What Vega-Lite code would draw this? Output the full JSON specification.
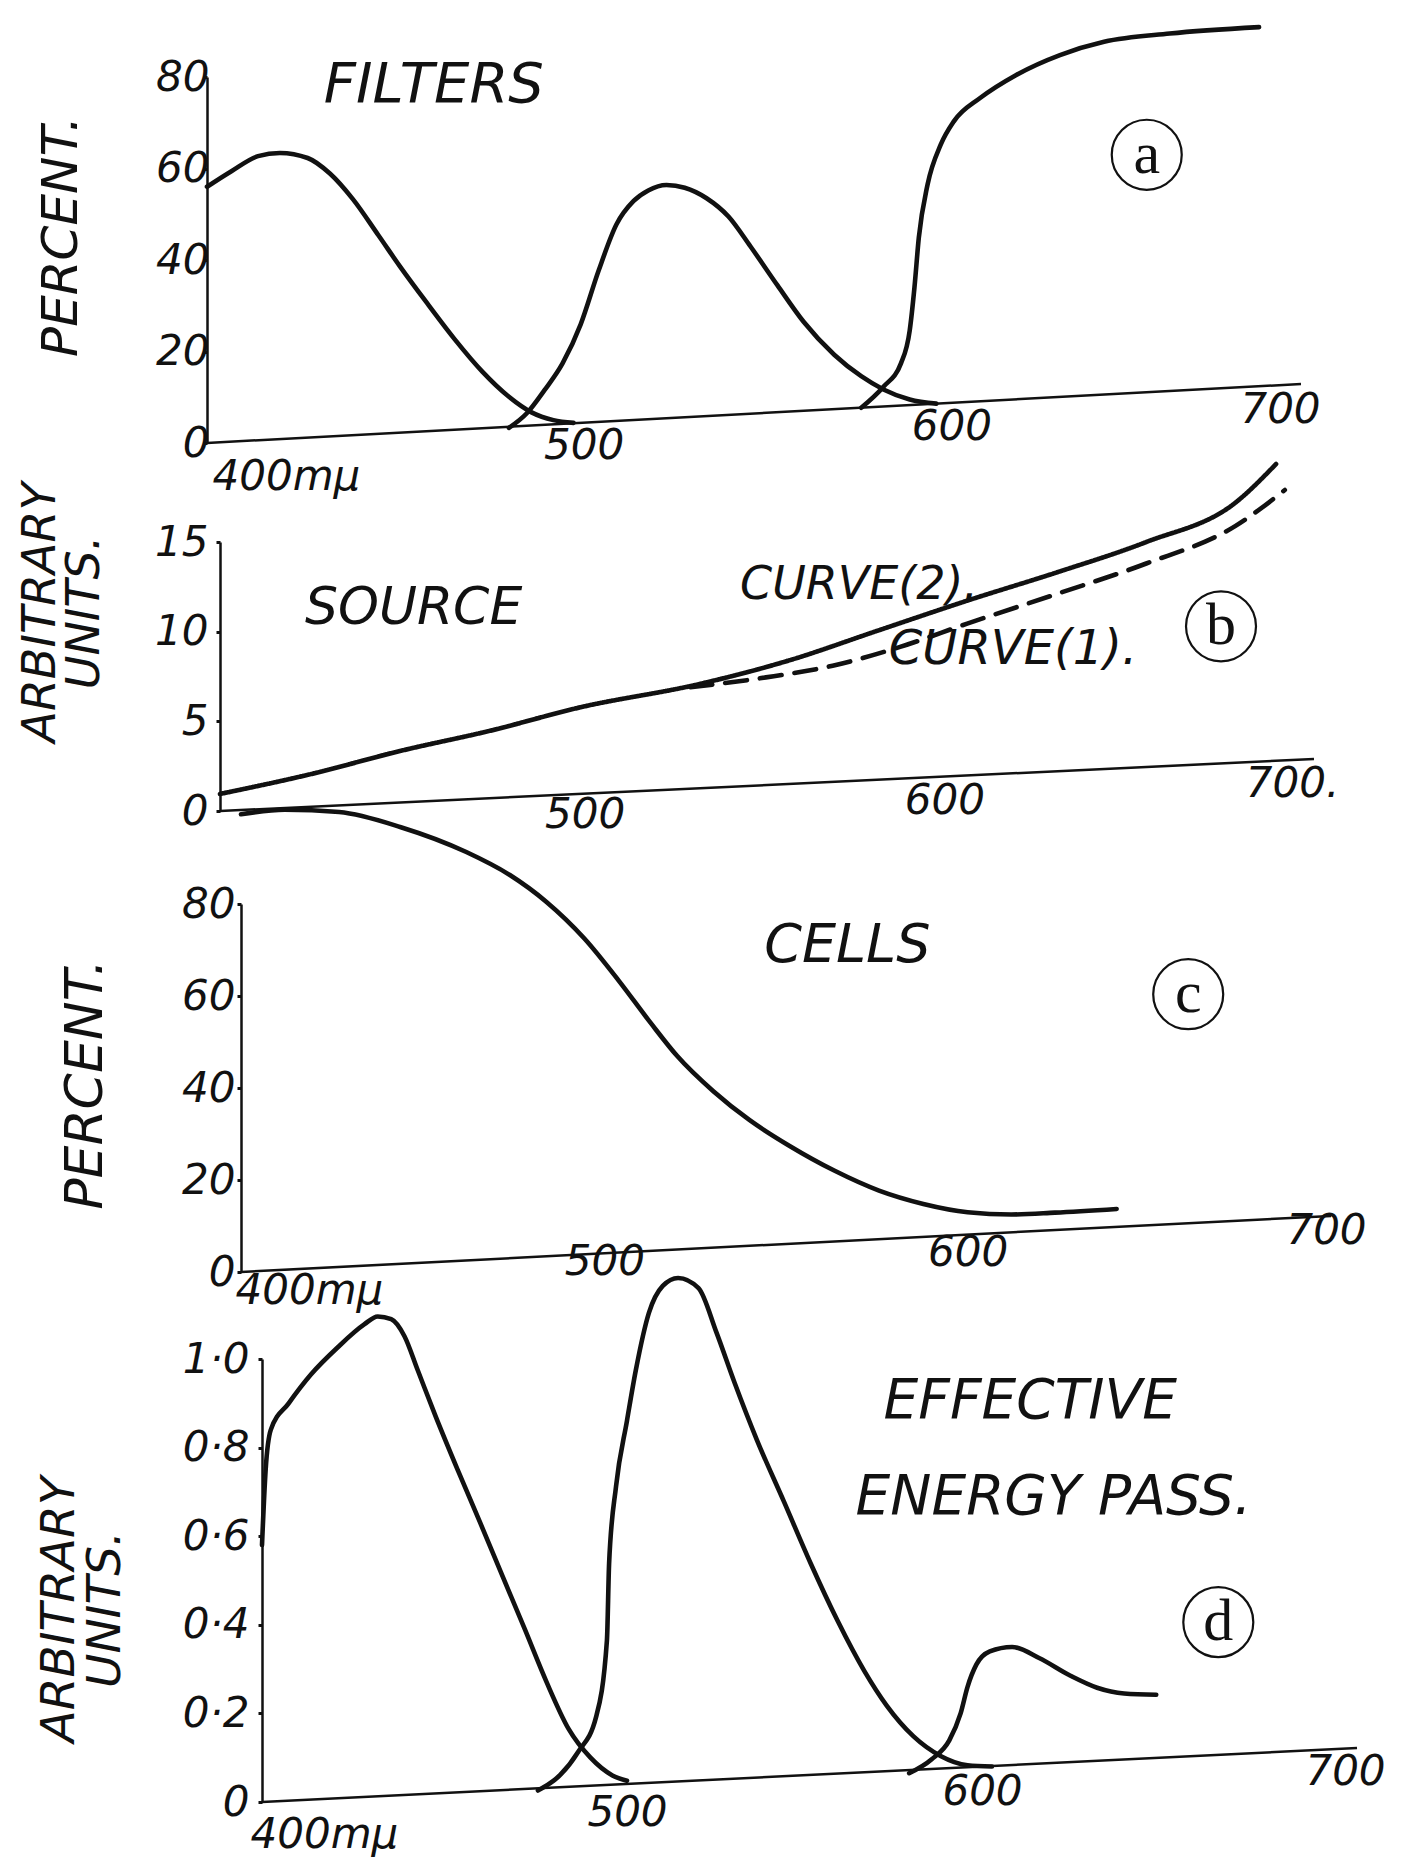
{
  "$schema": "https://vega.github.io/schema/vega-lite/v6.json",
  "background": "white",
  "padding": {"left": 16, "top": 17, "right": 0, "bottom": 8},
  "autosize": {"type": "pad"},
  "spacing": 93,
  "bounds": "flush",
  "config": {
    "view": {"stroke": null},
    "font": "DejaVu Sans",
    "axis": {
      "grid": false, "domainColor": "#111", "domainWidth": 2.5, "tickColor": "#111",
      "labelColor": "#111", "titleColor": "#111", "labelFont": "DejaVu Sans", "labelFontStyle": "italic",
      "labelFontSize": 42, "titleFont": "DejaVu Sans", "titleFontStyle": "italic", "titleFontWeight": "normal",
      "labelFlush": false, "labelOverlap": false, "labelBound": false
    },
    "line": {"color": "#111", "strokeWidth": 4.6, "interpolate": "monotone", "strokeCap": "round"},
    "text": {"font": "DejaVu Sans", "fontStyle": "italic", "color": "#111"}
  },
  "datasets": {
    "A": [
      {"s":"blue","nm":400,"v":56},{"s":"blue","nm":406.7,"v":59.4},{"s":"blue","nm":414,"v":62.7},{"s":"blue","nm":420,"v":63.4},{"s":"blue","nm":427.6,"v":62.3},{"s":"blue","nm":433.7,"v":58.9},{"s":"blue","nm":440,"v":53.3},{"s":"blue","nm":447,"v":45.4},{"s":"blue","nm":453,"v":38.5},{"s":"blue","nm":460.7,"v":30.2},{"s":"blue","nm":468,"v":22.6},{"s":"blue","nm":475.5,"v":15.6},{"s":"blue","nm":482.8,"v":10.1},{"s":"blue","nm":489,"v":6.7},{"s":"blue","nm":495,"v":5},{"s":"blue","nm":500.5,"v":4.4},
      {"s":"green","nm":482.8,"v":3.3},{"s":"green","nm":487.7,"v":6.5},{"s":"green","nm":492.6,"v":11.6},{"s":"green","nm":497.5,"v":17.4},{"s":"green","nm":502.5,"v":26},{"s":"green","nm":507.4,"v":37.7},{"s":"green","nm":512.3,"v":47.8},{"s":"green","nm":517,"v":52.9},{"s":"green","nm":521,"v":55.2},{"s":"green","nm":526,"v":56.4},{"s":"green","nm":531,"v":55.8},{"s":"green","nm":537,"v":53.5},{"s":"green","nm":543,"v":49.5},{"s":"green","nm":549,"v":43},{"s":"green","nm":556.4,"v":34.5},{"s":"green","nm":563.6,"v":26.5},{"s":"green","nm":572,"v":19.3},{"s":"green","nm":579.4,"v":14.6},{"s":"green","nm":585.5,"v":11.7},{"s":"green","nm":592.7,"v":9.5},{"s":"green","nm":600,"v":8.6},
      {"s":"red","nm":579.4,"v":7.7},{"s":"red","nm":585.5,"v":12.3},{"s":"red","nm":590.3,"v":17.4},{"s":"red","nm":592.7,"v":24.6},{"s":"red","nm":594,"v":34},{"s":"red","nm":595.2,"v":44.9},{"s":"red","nm":597.6,"v":56.5},{"s":"red","nm":601.2,"v":65.2},{"s":"red","nm":604.8,"v":70.3},{"s":"red","nm":612,"v":75.4},{"s":"red","nm":621.8,"v":80.4},{"s":"red","nm":633.9,"v":84.8},{"s":"red","nm":646,"v":87.7},{"s":"red","nm":664,"v":89.5},{"s":"red","nm":688.5,"v":90.9}
    ],
    "B": [
      {"s":"curve2","nm":400,"v":0.95},{"s":"curve2","nm":425,"v":2.06},{"s":"curve2","nm":449.7,"v":3.36},{"s":"curve2","nm":474.2,"v":4.48},{"s":"curve2","nm":498.8,"v":5.78},{"s":"curve2","nm":531.5,"v":7.08},{"s":"curve2","nm":555.8,"v":8.38},{"s":"curve2","nm":580.4,"v":10.06},{"s":"curve2","nm":604.9,"v":11.73},{"s":"curve2","nm":629.4,"v":13.3},{"s":"curve2","nm":654,"v":15},{"s":"curve2","nm":678.5,"v":17.2},{"s":"curve2","nm":689.6,"v":19.35},
      {"s":"curve1","nm":529,"v":6.9},{"s":"curve1","nm":549.7,"v":7.45},{"s":"curve1","nm":568,"v":8.1},{"s":"curve1","nm":586.5,"v":9.15},{"s":"curve1","nm":604.9,"v":10.45},{"s":"curve1","nm":629.4,"v":12.1},{"s":"curve1","nm":654,"v":13.8},{"s":"curve1","nm":678.5,"v":15.9},{"s":"curve1","nm":692,"v":17.9}
    ],
    "C": [
      {"s":"cells","nm":400,"v":99.5},{"s":"cells","nm":412,"v":100.5},{"s":"cells","nm":427,"v":100},{"s":"cells","nm":444,"v":96.7},{"s":"cells","nm":462,"v":91.3},{"s":"cells","nm":474,"v":86.3},{"s":"cells","nm":484,"v":80.5},{"s":"cells","nm":494.5,"v":72.5},{"s":"cells","nm":504,"v":63.3},{"s":"cells","nm":512.7,"v":54.2},{"s":"cells","nm":520,"v":47},{"s":"cells","nm":530,"v":39.3},{"s":"cells","nm":540,"v":33},{"s":"cells","nm":551,"v":27.4},{"s":"cells","nm":563.4,"v":22},{"s":"cells","nm":575.6,"v":17.7},{"s":"cells","nm":587.8,"v":14.8},{"s":"cells","nm":600,"v":13},{"s":"cells","nm":612,"v":12.5},{"s":"cells","nm":624,"v":12.9},{"s":"cells","nm":641,"v":13.7}
    ],
    "D": [
      {"s":"blue","nm":400,"v":0.58},{"s":"blue","nm":401,"v":0.75},{"s":"blue","nm":402.4,"v":0.84},{"s":"blue","nm":407.3,"v":0.9},{"s":"blue","nm":413.4,"v":0.965},{"s":"blue","nm":420.7,"v":1.026},{"s":"blue","nm":428,"v":1.078},{"s":"blue","nm":431.7,"v":1.096},{"s":"blue","nm":435.4,"v":1.09},{"s":"blue","nm":439,"v":1.052},{"s":"blue","nm":442.7,"v":0.974},{"s":"blue","nm":447.6,"v":0.87},{"s":"blue","nm":453.7,"v":0.748},{"s":"blue","nm":459.8,"v":0.63},{"s":"blue","nm":465.9,"v":0.51},{"s":"blue","nm":472,"v":0.39},{"s":"blue","nm":478,"v":0.27},{"s":"blue","nm":484,"v":0.165},{"s":"blue","nm":490,"v":0.1},{"s":"blue","nm":496,"v":0.06},{"s":"blue","nm":500,"v":0.048},
      {"s":"green","nm":475.6,"v":0.026},{"s":"green","nm":481.7,"v":0.061},{"s":"green","nm":486.6,"v":0.113},{"s":"green","nm":491.5,"v":0.191},{"s":"green","nm":494.5,"v":0.365},{"s":"green","nm":495.1,"v":0.539},{"s":"green","nm":497,"v":0.713},{"s":"green","nm":500,"v":0.861},{"s":"green","nm":502.4,"v":0.974},{"s":"green","nm":506,"v":1.104},{"s":"green","nm":509.8,"v":1.165},{"s":"green","nm":514,"v":1.183},{"s":"green","nm":519.6,"v":1.16},{"s":"green","nm":524.5,"v":1.06},{"s":"green","nm":529.4,"v":0.948},{"s":"green","nm":535.6,"v":0.817},{"s":"green","nm":543,"v":0.678},{"s":"green","nm":550.3,"v":0.539},{"s":"green","nm":557.7,"v":0.409},{"s":"green","nm":565,"v":0.296},{"s":"green","nm":571.2,"v":0.217},{"s":"green","nm":578.5,"v":0.148},{"s":"green","nm":585.9,"v":0.104},{"s":"green","nm":593.3,"v":0.083},{"s":"green","nm":600,"v":0.08},
      {"s":"red","nm":577.3,"v":0.065},{"s":"red","nm":583.4,"v":0.096},{"s":"red","nm":588.3,"v":0.139},{"s":"red","nm":591.4,"v":0.2},{"s":"red","nm":593.3,"v":0.26},{"s":"red","nm":595.7,"v":0.31},{"s":"red","nm":599.4,"v":0.34},{"s":"red","nm":605.5,"v":0.35},{"s":"red","nm":612.9,"v":0.325},{"s":"red","nm":621.5,"v":0.285},{"s":"red","nm":628.8,"v":0.258},{"s":"red","nm":636.2,"v":0.245},{"s":"red","nm":645,"v":0.242}
    ]
  },
  "vconcat": [
    {
      "width": 1094, "height": 372,
      "layer": [
        {
          "data": {"name": "A"},
          "mark": {"type": "line"},
          "encoding": {
            "x": {"field": "nm", "type": "quantitative",
              "scale": {"domain": [400, 700], "range": [0, 1094], "nice": false, "zero": false},
              "axis": {"values": [400, 500, 600, 700], "domain": false, "ticks": false, "tickSize": 0, "title": null,
                "labelBaseline": "top",
                "labelExpr": "datum.value == 400 ? '400mμ' : datum.label",
                "labelAlign": {"condition": {"test": "datum.value == 400", "value": "left"}, "value": "center"},
                "labelPadding": {"condition": [{"test": "datum.value == 400", "value": 7}, {"test": "datum.value == 500", "value": -24}, {"test": "datum.value == 600", "value": -43}], "value": -60},
                "labelOffset": {"condition": [{"test": "datum.value == 400", "value": 5}, {"test": "datum.value == 500", "value": 12}, {"test": "datum.value == 600", "value": 15}, {"test": "datum.value == 700", "value": -21}], "value": 0}}},
            "y": {"field": "v", "type": "quantitative",
              "scale": {"domain": [0, 80], "range": [366, 0], "nice": false},
              "axis": {"values": [0, 20, 40, 60, 80], "title": "PERCENT.", "titleFontSize": 50, "titleAngle": 270,
                "titleX": -146, "titleY": 159, "titleAlign": "center", "titleBaseline": "middle",
                "tickSize": 4, "tickWidth": 3, "labelPadding": -6, "offset": 0}},
            "detail": {"field": "s"}
          }
        },
        {"data": {"values": [{}]}, "mark": {"type": "rule", "color": "#111", "strokeWidth": 2.5},
          "encoding": {"x": {"datum": 400}, "x2": {"datum": 700}, "y": {"datum": 0}, "y2": {"datum": 12.9}}},
        {"data": {"values": [{}]}, "mark": {"type": "text", "fontSize": 56, "align": "left", "baseline": "alphabetic"},
          "encoding": {"x": {"datum": 432}, "y": {"datum": 74.5}, "text": {"value": "FILTERS"}}},
        {"data": {"values": [{}]}, "mark": {"type": "point", "shape": "circle", "size": 4900, "filled": false, "strokeWidth": 2.2, "color": "#111", "opacity": 1},
          "encoding": {"x": {"datum": 657.7}, "y": {"datum": 63}}},
        {"data": {"values": [{}]}, "mark": {"type": "text", "font": "Liberation Serif", "fontStyle": "normal", "fontSize": 60, "align": "center", "baseline": "middle"},
          "encoding": {"x": {"datum": 657.7}, "y": {"datum": 63}, "text": {"value": "a"}}}
      ]
    },
    {
      "width": 1107, "height": 269,
      "layer": [
        {
          "data": {"name": "B"},
          "mark": {"type": "line"},
          "encoding": {
            "x": {"field": "nm", "type": "quantitative",
              "scale": {"domain": [400, 700], "range": [13, 1107], "nice": false, "zero": false},
              "axis": {"values": [500, 600, 700], "domain": false, "ticks": false, "tickSize": 0, "title": null,
                "labelBaseline": "top",
                "labelExpr": "datum.value == 700 ? '700.' : datum.label",
                "labelPadding": {"condition": [{"test": "datum.value == 500", "value": -17}, {"test": "datum.value == 600", "value": -31}], "value": -48},
                "labelOffset": {"condition": [{"test": "datum.value == 600", "value": -5}, {"test": "datum.value == 700", "value": -22}], "value": 0}}},
            "y": {"field": "v", "type": "quantitative",
              "scale": {"domain": [0, 15], "nice": false},
              "axis": {"values": [0, 5, 10, 15], "title": ["ARBITRARY", "UNITS."], "titleFontSize": 46, "titleLineHeight": 44, "titleAngle": 270,
                "titleX": -180, "titleY": 70, "titleAlign": "center", "titleBaseline": "middle",
                "tickSize": 4, "tickWidth": 3, "labelPadding": 8, "offset": -13}},
            "detail": {"field": "s"},
            "strokeDash": {"field": "s", "type": "nominal", "legend": null,
              "scale": {"domain": ["curve2", "curve1"], "range": [[1, 0], [22, 13]]}}
          }
        },
        {"data": {"values": [{}]}, "mark": {"type": "rule", "color": "#111", "strokeWidth": 2.5},
          "encoding": {"x": {"datum": 400}, "x2": {"datum": 700}, "y": {"datum": 0}, "y2": {"datum": 2.9}}},
        {"data": {"values": [{}]}, "mark": {"type": "text", "fontSize": 52, "align": "left", "baseline": "alphabetic"},
          "encoding": {"x": {"datum": 423.3}, "y": {"datum": 10.4}, "text": {"value": "SOURCE"}}},
        {"data": {"values": [{}]}, "mark": {"type": "text", "fontSize": 46, "align": "left", "baseline": "alphabetic"},
          "encoding": {"x": {"datum": 542.6}, "y": {"datum": 11.8}, "text": {"value": "CURVE(2)."}}},
        {"data": {"values": [{}]}, "mark": {"type": "text", "fontSize": 48, "align": "left", "baseline": "alphabetic"},
          "encoding": {"x": {"datum": 583.4}, "y": {"datum": 8.2}, "text": {"value": "CURVE(1)."}}},
        {"data": {"values": [{}]}, "mark": {"type": "point", "shape": "circle", "size": 4900, "filled": false, "strokeWidth": 2.2, "color": "#111", "opacity": 1},
          "encoding": {"x": {"datum": 674.5}, "y": {"datum": 10.3}}},
        {"data": {"values": [{}]}, "mark": {"type": "text", "font": "Liberation Serif", "fontStyle": "normal", "fontSize": 60, "align": "center", "baseline": "middle"},
          "encoding": {"x": {"datum": 674.5}, "y": {"datum": 10.3}, "text": {"value": "b"}}}
      ]
    },
    {
      "width": 1124, "height": 368,
      "layer": [
        {
          "data": {"name": "C"},
          "mark": {"type": "line"},
          "encoding": {
            "x": {"field": "nm", "type": "quantitative",
              "scale": {"domain": [400, 700], "range": [34, 1124], "nice": false, "zero": false},
              "axis": {"values": [400, 500, 600, 700], "domain": false, "ticks": false, "tickSize": 0, "title": null,
                "labelBaseline": "top",
                "labelExpr": "datum.value == 400 ? '400mμ' : datum.label",
                "labelAlign": {"condition": {"test": "datum.value == 400", "value": "left"}, "value": "center"},
                "labelPadding": {"condition": [{"test": "datum.value == 400", "value": -2}, {"test": "datum.value == 500", "value": -31}, {"test": "datum.value == 600", "value": -40}], "value": -62},
                "labelOffset": {"condition": [{"test": "datum.value == 400", "value": -6}, {"test": "datum.value == 700", "value": -5}], "value": 0}}},
            "y": {"field": "v", "type": "quantitative",
              "scale": {"domain": [0, 80], "nice": false},
              "axis": {"values": [0, 20, 40, 60, 80], "title": "PERCENT.", "titleFontSize": 52, "titleAngle": 270,
                "titleX": -156, "titleY": 180, "titleAlign": "center", "titleBaseline": "middle",
                "tickSize": 4, "tickWidth": 3, "labelPadding": 2, "offset": -34}},
            "detail": {"field": "s"}
          }
        },
        {"data": {"values": [{}]}, "mark": {"type": "rule", "color": "#111", "strokeWidth": 2.5},
          "encoding": {"x": {"datum": 400}, "x2": {"datum": 700}, "y": {"datum": 0}, "y2": {"datum": 12.2}}},
        {"data": {"values": [{}]}, "mark": {"type": "text", "fontSize": 54, "align": "left", "baseline": "alphabetic"},
          "encoding": {"x": {"datum": 544}, "y": {"datum": 67.4}, "text": {"value": "CELLS"}}},
        {"data": {"values": [{}]}, "mark": {"type": "point", "shape": "circle", "size": 4900, "filled": false, "strokeWidth": 2.2, "color": "#111", "opacity": 1},
          "encoding": {"x": {"datum": 660.7}, "y": {"datum": 60.4}}},
        {"data": {"values": [{}]}, "mark": {"type": "text", "font": "Liberation Serif", "fontStyle": "normal", "fontSize": 60, "align": "center", "baseline": "middle"},
          "encoding": {"x": {"datum": 660.7}, "y": {"datum": 60.4}, "text": {"value": "c"}}}
      ]
    },
    {
      "width": 1150, "height": 437,
      "layer": [
        {
          "data": {"name": "D"},
          "mark": {"type": "line"},
          "encoding": {
            "x": {"field": "nm", "type": "quantitative",
              "scale": {"domain": [400, 700], "range": [55, 1150], "nice": false, "zero": false},
              "axis": {"values": [400, 500, 600, 700], "domain": false, "ticks": false, "tickSize": 0, "title": null,
                "labelBaseline": "top",
                "labelExpr": "datum.value == 400 ? '400mμ' : datum.label",
                "labelAlign": {"condition": {"test": "datum.value == 400", "value": "left"}, "value": "center"},
                "labelPadding": {"condition": [{"test": "datum.value == 400", "value": 12}, {"test": "datum.value == 500", "value": -10}, {"test": "datum.value == 600", "value": -31}], "value": -51},
                "labelOffset": {"condition": [{"test": "datum.value == 400", "value": -12}, {"test": "datum.value == 600", "value": -10}, {"test": "datum.value == 700", "value": -12}], "value": 0}}},
            "y": {"field": "v", "type": "quantitative",
              "scale": {"domain": [0, 1], "range": [437, -6], "nice": false},
              "axis": {"values": [0, 0.2, 0.4, 0.6, 0.8, 1], "title": ["ARBITRARY", "UNITS."], "titleFontSize": 47, "titleLineHeight": 46, "titleAngle": 270,
                "titleX": -203, "titleY": 244, "titleAlign": "center", "titleBaseline": "middle",
                "labelExpr": "datum.value == 0 ? '0' : replace(format(datum.value, '.1f'), '.', '·')",
                "tickSize": 4, "tickWidth": 3, "labelPadding": 9, "offset": -55}},
            "detail": {"field": "s"}
          }
        },
        {"data": {"values": [{}]}, "mark": {"type": "rule", "color": "#111", "strokeWidth": 2.5},
          "encoding": {"x": {"datum": 400}, "x2": {"datum": 700}, "y": {"datum": 0}, "y2": {"datum": 0.122}}},
        {"data": {"values": [{}]}, "mark": {"type": "text", "fontSize": 55, "align": "left", "baseline": "alphabetic"},
          "encoding": {"x": {"datum": 570.3}, "y": {"datum": 0.867}, "text": {"value": "EFFECTIVE"}}},
        {"data": {"values": [{}]}, "mark": {"type": "text", "fontSize": 55, "align": "left", "baseline": "alphabetic"},
          "encoding": {"x": {"datum": 562.6}, "y": {"datum": 0.65}, "text": {"value": "ENERGY PASS."}}},
        {"data": {"values": [{}]}, "mark": {"type": "point", "shape": "circle", "size": 4900, "filled": false, "strokeWidth": 2.2, "color": "#111", "opacity": 1},
          "encoding": {"x": {"datum": 662}, "y": {"datum": 0.406}}},
        {"data": {"values": [{}]}, "mark": {"type": "text", "font": "Liberation Serif", "fontStyle": "normal", "fontSize": 60, "align": "center", "baseline": "middle"},
          "encoding": {"x": {"datum": 662}, "y": {"datum": 0.406}, "text": {"value": "d"}}}
      ]
    }
  ]
}
